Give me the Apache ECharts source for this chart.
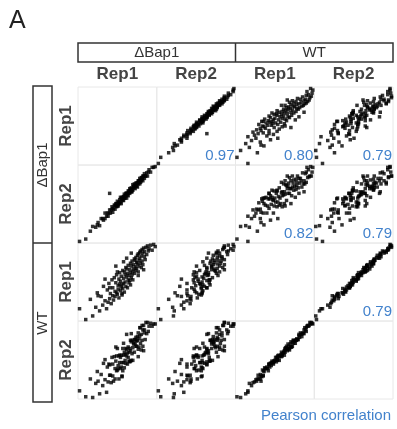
<!DOCTYPE html>
<html>
<head>
<meta charset="utf-8">
<script src="https://cdn.jsdelivr.net/npm/echarts@6/dist/echarts.min.js"></script>
<style>
  html, body { margin: 0; padding: 0; background: #fff; }
  #chart { width: 397px; height: 429px; }
</style>
</head>
<body>
<div id="chart"></div>
<script>
// per-gene expression values, one array per sample (same gene order)
const dBap1Rep1 = [0.3,1.1,1.7,2.0,2.4,2.6,2.9,3.1,3.3,3.4, 3.6,3.8,3.9,4.0,4.1,4.2,4.3,4.4,4.5,4.6,
  4.6,4.7,4.8,4.9,4.9,5.0,5.1,5.1,5.2,5.3, 5.3,5.4,5.4,5.5,5.5,5.6,5.6,5.7,5.7,5.8,
  5.8,5.9,5.9,6.0,6.0,6.1,6.1,6.2,6.2,6.3, 6.3,6.4,6.4,6.5,6.5,6.6,6.6,6.7,6.7,6.8,
  6.8,6.9,6.9,7.0,7.0,7.1,7.1,7.2,7.2,7.3, 7.3,7.4,7.4,7.5,7.5,7.6,7.6,7.7,7.7,7.8,
  7.8,7.9,7.9,8.0,8.0,8.1,8.1,8.2,8.2,8.3, 8.3,8.4,8.4,8.5,8.5,8.6,8.7,8.7,8.8,8.9,
  9.0,9.1,9.2,9.3,9.5,9.7,9.9,10.1, 4.2,5.0,6.0,3.6,7.0,2.7,5.8,6.9,7.9,6.4,5.2,8.6];
const dBap1Rep2 = [0.5,0.8,1.8,2.4,2.3,2.6,2.5,3.4,3.4,3.2, 4.1,3.7,4.1,3.7,4.1,4.5,4.1,4.5,4.9,4.2,
  4.7,4.6,5.1,5.1,4.6,5.0,5.3,4.9,5.6,5.2, 5.0,5.5,5.4,5.8,5.3,6.1,5.5,5.9,5.3,5.9,
  6.1,5.7,5.9,6.2,5.7,6.5,6.0,6.3,6.0,6.6, 6.3,6.0,6.6,6.6,6.4,6.9,6.3,6.9,6.7,7.2,
  6.6,7.0,6.8,7.3,7.2,6.8,7.1,7.7,7.0,7.4, 7.5,7.3,7.8,7.2,7.6,7.6,7.9,7.5,7.9,7.4,
  7.9,8.2,7.8,8.0,8.2,7.8,8.5,8.3,8.0,8.6, 8.2,8.6,8.4,8.2,8.8,8.7,8.5,9.1,8.8,8.8,
  9.2,8.8,9.3,9.6,9.3,9.9,9.9,10.0, 6.6,5.3,6.1,3.4,6.8,2.9,6.0,7.0,8.0,6.6,5.0,8.8];
const wtRep1 = [1.9,0.4,3.2,0.9,2.1,4.1,1.6,3.6,2.4,5.0, 3.0,1.9,4.5,2.8,5.4,3.3,4.0,2.6,5.9,3.7,
  4.8,3.1,6.2,4.3,3.6,5.5,4.1,6.6,3.9,5.1, 4.6,6.0,3.4,5.3,6.9,4.4,5.7,4.9,6.4,3.8,
  5.2,7.2,4.7,6.1,5.4,7.0,4.2,6.6,5.6,7.6, 5.0,6.3,7.4,4.8,6.8,5.9,7.9,5.5,6.5,7.3,
  5.8,8.2,6.9,6.2,7.8,6.6,8.5,7.1,5.9,8.0, 7.4,8.8,6.8,7.7,8.6,7.2,9.0,8.3,7.5,9.3,
  8.1,7.0,9.5,8.6,7.8,9.7,8.9,8.2,9.9,7.6, 9.2,10.1,8.5,9.6,8.0,10.3,9.1,9.8,8.7,10.4,
  9.4,10.6,9.9,10.2,10.7,10.0,10.8,10.5, 4.8,7.8,8.4,6.0,9.6,3.7,4.0,5.2,6.5,8.9,7.0,7.3];
const wtRep2 = [1.6,0.8,3.2,0.7,2.6,4.2,1.2,3.8,2.3,5.3, 3.1,1.4,4.8,2.8,5.2,3.7,3.7,2.7,6.1,3.6,
  5.2,2.9,6.2,4.6,3.2,5.6,4.3,6.3,4.4,5.0, 4.6,6.3,3.2,5.4,6.4,4.6,6.1,4.8,6.4,3.5,
  5.4,7.3,4.3,6.4,5.4,6.8,4.7,6.5,5.7,7.3, 5.3,6.3,7.2,5.2,6.7,6.1,7.5,5.6,6.8,7.3,
  5.5,8.4,7.0,5.7,8.2,6.6,8.4,7.4,5.7,8.1, 7.9,8.5,6.8,7.9,8.5,7.6,8.8,8.3,7.6,8.9,
  8.4,7.2,9.4,8.6,7.5,10.1,9.0,8.0,10.1,7.1, 9.2,10.4,8.4,9.8,7.6,10.4,9.4,9.8,8.5,10.8,
  9.3,10.8,9.6,10.3,10.7,10.3,10.6,10.6, 5.1,7.5,8.0,5.8,9.3,2.9,3.6,5.6,6.2,9.2,7.3,7.0];

const groups = ['ΔBap1', 'WT'];
const reps = ['Rep1', 'Rep2'];
const samples = [dBap1Rep1, dBap1Rep2, wtRep1, wtRep2];
// [row sample, col sample, r]
const pearson = [[0, 1, 0.97], [0, 2, 0.80], [0, 3, 0.79], [1, 2, 0.82], [1, 3, 0.79], [2, 3, 0.79]];

const gLeft = 78, gTop = 87, cellW = 78.75, cellH = 78;
const n = samples.length;
const blue = '#4282cc';
const font = '"Liberation Sans", Arial, sans-serif';

const grid = [], xAxis = [], yAxis = [], series = [], graphic = [];

const range = (arr) => ({ min: Math.min(...arr) - 0.2, max: Math.max(...arr) + 0.2 });

for (let i = 0; i < n; i++) {
  for (let j = 0; j < n; j++) {
    const k = i * n + j;
    grid.push({
      left: gLeft + j * cellW, top: gTop + i * cellH, width: cellW, height: cellH,
      show: true, borderColor: '#e8e8e8', borderWidth: 1, backgroundColor: 'transparent'
    });
    xAxis.push({ type: 'value', gridIndex: k, show: false, ...range(samples[j]) });
    yAxis.push({ type: 'value', gridIndex: k, show: false, ...range(samples[i]) });
    if (i !== j) {
      series.push({
        type: 'scatter', xAxisIndex: k, yAxisIndex: k,
        symbol: 'rect', symbolSize: 3.5,
        itemStyle: { color: '#000' },
        silent: true,
        data: samples[i].map((_, g) => [samples[j][g], samples[i][g]])
      });
    }
  }
}

// correlation labels in upper triangle
pearson.forEach(([r, c, v]) => {
  graphic.push({
    type: 'text',
    x: gLeft + (c + 1) * cellW - 1, y: gTop + (r + 1) * cellH - 9,
    style: { text: v.toFixed(2), fontSize: 15, fontFamily: font, fill: blue, align: 'right', verticalAlign: 'middle' }
  });
});

const stroke = { fill: 'none', stroke: '#333', lineWidth: 1.5 };
const gRight = gLeft + n * cellW;
const gBottom = gTop + n * cellH;

// column group header
graphic.push({ type: 'rect', shape: { x: gLeft, y: 43, width: gRight - gLeft, height: 19 }, style: stroke });
graphic.push({ type: 'line', shape: { x1: gLeft + 2 * cellW, y1: 43, x2: gLeft + 2 * cellW, y2: 62 }, style: stroke });
// row group header
graphic.push({ type: 'rect', shape: { x: 33, y: gTop - 1, width: 19, height: gBottom + 4 - gTop }, style: stroke });
graphic.push({ type: 'line', shape: { x1: 33, y1: gTop + 2 * cellH, x2: 52, y2: gTop + 2 * cellH }, style: stroke });

groups.forEach((g, gi) => {
  graphic.push({
    type: 'text', x: gLeft + (gi * 2 + 1) * cellW, y: 53,
    style: { text: g, fontSize: 15, fontFamily: font, fill: '#333', align: 'center', verticalAlign: 'middle' }
  });
  graphic.push({
    type: 'text', x: 43, y: gTop + (gi * 2 + 1) * cellH + (gi ? 2 : 0), rotation: Math.PI / 2,
    style: { text: g, fontSize: 15, fontFamily: font, fill: '#333', align: 'center', verticalAlign: 'middle' }
  });
  reps.forEach((rp, ri) => {
    const idx = gi * 2 + ri;
    graphic.push({
      type: 'text', x: gLeft + (idx + 0.5) * cellW, y: 74,
      style: { text: rp, fontSize: 17, fontWeight: 'bold', fontFamily: font, fill: '#444', align: 'center', verticalAlign: 'middle' }
    });
    graphic.push({
      type: 'text', x: 66, y: gTop + (idx + 0.5) * cellH, rotation: Math.PI / 2,
      style: { text: rp, fontSize: 17, fontWeight: 'bold', fontFamily: font, fill: '#444', align: 'center', verticalAlign: 'middle' }
    });
  });
});

graphic.push({
  type: 'text', x: 9, y: 21,
  style: { text: 'A', fontSize: 25, fontFamily: font, fill: '#222', align: 'left', verticalAlign: 'middle' }
});
graphic.push({
  type: 'text', x: 391, y: 416,
  style: { text: 'Pearson correlation', fontSize: 15, fontFamily: font, fill: blue, align: 'right', verticalAlign: 'middle' }
});

const chart = echarts.init(document.getElementById('chart'));
chart.setOption({
  animation: false,
  grid, xAxis, yAxis, series, graphic
});
</script>
</body>
</html>
